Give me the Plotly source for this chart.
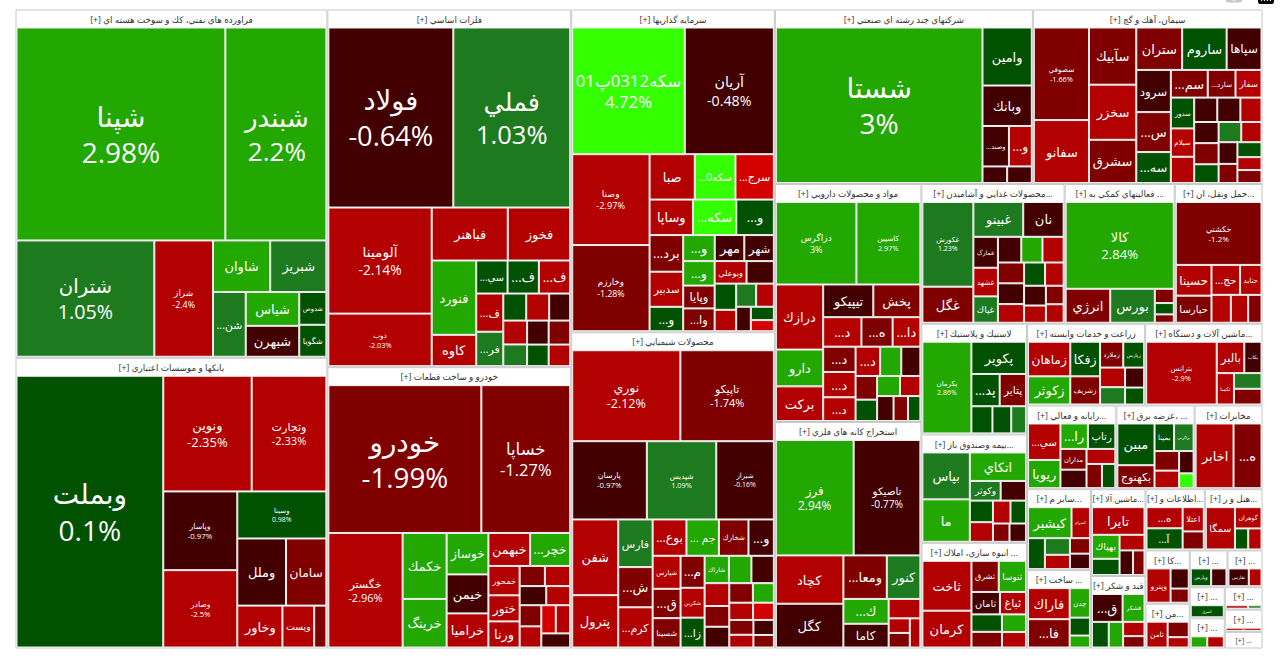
import plotly.graph_objects as go

# ---------------- data ----------------
sector_names = [
    "فراورده هاي نفتي، كك و سوخت هسته اي",
    "بانكها و موسسات اعتباري",
    "فلزات اساسي",
    "خودرو و ساخت قطعات",
    "سرمايه گذاريها",
    "محصولات شيميايي",
    "شركتهاي چند رشته اي صنعتي",
    "سيمان، آهك و گچ",
    "مواد و محصولات دارويي",
    "استخراج كانه هاي فلزي",
    "محصولات غذايي و آشاميدن...",
    "فعاليتهاي كمكي به ...",
    "حمل ونقل، ان...",
    "لاستيك و پلاستيك",
    "زراعت و خدمات وابسته",
    "ماشين آلات و دستگاه...",
    "بيمه وصندوق باز...",
    "انبوه سازي، املاك ...",
    "رايانه و فعالي...",
    "عرضه برق، ...",
    "مخابرات",
    "ساير م...",
    "ماشين آلا...",
    "هتل و ر...",
    "كا...",
    "ساخت ...",
    "قند و شكر",
    "اطلاعات و...",
    "من...",
    "...",
    "...",
    "...",
    "...",
    "...",
    "...",
    "...",
]

stock_names = [
    ["شپنا", "شبندر", "شتران", "شراز", "شاوان", "شبريز", "...شن", "شياس", "شبهرن", "شگويا", "شدوص"],
    ["وبملت", "ونوين", "وتجارت", "وپاسار", "وسينا", "وصادر", "وملل", "سامان", "وخاور", "وپست", "وكار"],
    ["فولاد", "فملي", "آلومينا", "ذوب", "فباهنر", "فخوز", "فنورد", "كاوه", "...سي", "...ف", "...فر",
     "...ف", "...ف", "فجر", "فلوله", "فسرب", "فروي", "فسپا", "فجهان", "فاسمين", "فزرين", "فكاوه"],
    ["خودرو", "خساپا", "خگستر", "خكمك", "خرينگ", "خيمن", "خوساز", "خراميا", "خبهمن", "...خچر", "ختور",
     "ورنا", "خمحور", "خپارس", "خاور", "خفنر", "خلنت", "خزاميا", "خشرق", "خريخت", "خمهر", "خاذين"],
    ["سكه0312پ01", "آريان", "وصنا", "وخارزم", "صبا", "...سكه0", "...و", "...سرج", "وساپا", "...سكه",
     "...برد", "وپايا", "مهر", "...وا", "سدبير", "شهر",
     "...و", "...و", "...و", "وبوعلي", "وسپه", "وغدير", "ونيكي", "وتوسم", "واميد", "وسكاب", "وآتي", "ومعادن"],
    ["نوري", "تاپيكو", "پارسان", "شپديس", "شيراز", "شفن", "پترول", "فارس", "...بوع", "... جم", "شخارك",
     "شكربن", "...ش", "...كرم",
     "...و", "...ق", "...م", "...زا", "شپارس", "شسينا", "شاراك", "شفارس", "شيران", "شكام", "شملي",
     "شغدير", "شلعاب", "شرنگي", "شصفها", "كرماشا", "شگل", "شتوكا", "شپاكسا", "شاملا"],
    ["شستا", "وامين", "وبانك", "...وصند", "...و", "وسپهر", "ومعادن"],
    ["سصوفي", "سفانو", "سآبيك", "سخزر", "سشرق", "ستران", "ساروم", "سپاها", "سرود", "...سارد", "...سه",
     "سفار", "...س", "...سم",
     "سدور", "سيلام", "سكرما", "سبهان", "سمازن", "سهگمت", "سغرب", "سخوز", "سنير", "سكرد", "سدشت",
     "سفارود", "ساربيل", "سقاين", "سيدكو", "سبجنو"],
    ["دزاگرس", "كاسپين", "درازك", "بركت", "تيپيكو", "...د", "پخش", "دارو", "...ه", "...دا", "...د",
     "...د", "...د", "...د", "دفارا", "دسبحا", "ديران", "دلر", "دكوثر", "دشيمي", "دابور", "داسوه", "دتماد"],
    ["فرز", "تاصيكو", "كگل", "كچاد", "كنور", "...ومعا", "...ك", "كاما", "كفرآور", "كمنگنز", "كروي", "كبافق"],
    ["غكورش", "غگل", "غبينو", "نان", "...غ", "غمارگ", "غشهد", "غپاك", "غدشت", "غزر", "غسالم", "غشان",
     "غپينو", "غمهرا", "غاذر", "غالبر", "غچين", "غنوش", "غدام"],
    ["كالا", "انرژي", "بورس", "فرابورس", "سپرده", "نهاد"],
    ["حكشتي", "حسينا", "...حج", "حتايد", "حپارسا", "حآفرين", "حريل", "حفارس"],
    ["پكرمان", "پكوير", "...پد", "پتاير", "پاكشو", "پلاسك", "پسهند"],
    ["زماهان", "زكوثر", "زفكا", "زشريف", "زملارد", "زپارس", "زبينا", "زدشت", "زگلدشت", "زشگزا"],
    ["بترانس", "بالبر", "بكاب", "تكمبا", "لخزر", "تپمپي"],
    ["بپاس", "ما", "اتكاي", "وكوثر", "ودانا", "وآسيا", "البرز", "بنو", "وتعاون", "ورازي", "وحكمت"],
    ["ثاخت", "كرمان", "ثشرق", "ثنوسا", "ثامان", "ثباغ", "ثفارس", "ثمسكن", "ثاصفا", "ثالوند"],
    ["...سي", "ريويا", "...را", "رتاپ", "مداران", "سپ", "فن افزار", "اپرداز", "رافزا"],
    ["مبين", "بكهنوج", "بمپنا", "بزاگرس", "تابا", "بجهرم", "بپيوند", "بنيرو"],
    ["اخابر", "...ه"],
    ["كيشبر", "كسرام", "...ك", "كساوه", "كفرا", "كپشير", "كلوند"],
    ["تايرا", "بهپاك", "بشهاب", "بسويچ", "بموتو", "بنوتاش"],
    ["سمگا", "گوهران", "اماهان", "گشان"],
    ["وپترو", "ثنظام", "ساذري"],
    ["فاراك", "...فا", "چدن", "فنرژي", "فجام"],
    ["...ق", "قشكر", "قثابت", "قپيرا", "قهكمت", "قنيشا"],
    ["...ه", "...آ", "اعتلا", "مفاخر"],
    ["ثامن", "دماوند", "سلار"],
    ["تفارس", "تكنار"],
    ["كشرق"],
    ["وپارس", "ولتجارت"],
    ["ساينا"],
    ["نمرا", "لپارس"],
    ["لسرما"],
    ["ميدكو", "كمينا"],
]

stock_pct = [
    [2.98, 2.2, 1.05, -2.4, 2.5, 1.3, 1.6, 2.4, -0.6, 0.5, 0.4],
    [0.1, -2.35, -2.33, -0.97, 0.98, -2.5, -0.3, -1.5, -2.2, -2.4, -1.4],
    [-0.64, 1.03, -2.14, -2.03, -2.4, -2.2, 2.6, -2.3, 0.5, 0.7, 1.5,
     -2.1, -2.6, 0.4, -2.2, -0.8, -2.5, 1.4, -0.5, 0.6, -2.8, -1.5],
    [-1.99, -1.27, -2.96, 2.7, 2.4, -0.7, 2.2, -2.5, -2.3, 2.5, -2.4,
     -2.2, -2.6, -1.5, -2.1, -0.6, -2.7, -1.8, -2.4, -3.5, -2.0, -0.5],
    [4.72, -0.48, -2.97, -1.28, -2.6, 4.5, 0.6, -3.4, -2.2, 4.3, -1.3, -1.5, -0.9, -1.4, -2.3, -0.7,
     0.6, 2.3, 2.5, -2.2, -0.8, 0.5, -2.4, 1.6, -2.6, -0.7, 0.3, -3.2],
    [-2.12, -1.74, -0.97, 1.09, -0.16, -2.4, -2.3, 1.4, -2.5, 2.6, -1.5, -2.7, -1.6, -2.2,
     -0.9, -1.6, -1.5, 0.6, -2.3, -1.4, 2.4, 2.2, -0.8, -2.1, -1.2, -0.7, -1.6, 2.6, -2.2, -3.5,
     -1.1, -2.4, -0.5, -1.3],
    [3.0, 0.6, -0.8, -0.6, -2.3, -0.5, -0.9],
    [-1.66, -2.8, -1.5, -2.3, -1.4, -1.6, 0.7, -0.6, -0.8, -1.3, 0.5, -2.3, -1.4, -1.2,
     0.5, -2.2, -2.4, -0.7, -0.8, -2.5, -0.6, -1.5, 0.4, 1.5, -2.3, -0.9, -1.8, 0.6, -2.0, -1.2],
    [3.0, 2.97, -2.3, -2.4, -0.8, -2.2, -1.5, 2.5, -1.4, -2.1, -1.3, -2.2, -2.4, -2.1, 2.2, -0.6,
     -1.1, 0.5, 2.6, -2.6, -0.9, -1.6, 0.4],
    [2.94, -0.77, -0.6, -2.5, 1.5, -1.4, 2.8, -0.9, -2.3, -2.1, -1.5, -2.6],
    [1.23, -1.3, 1.6, -0.6, 2.6, -0.8, -2.4, 1.5, -0.7, -2.2, -1.4, -0.9, -2.6, 0.6, -2.1, -0.5,
     -2.3, -1.2, -2.5],
    [2.84, -1.4, 1.5, -1.2, 0.5, -1.6],
    [-1.2, -2.3, -2.2, -2.5, -1.5, -2.1, -2.6, -1.4],
    [2.86, 0.8, 0.6, -1.3, 0.5, 0.4, 1.2],
    [-2.2, 2.4, 0.7, -1.3, -1.5, 0.6, -2.3, 1.3, -0.8, 0.5],
    [-2.9, -2.4, -0.7, -2.2, 1.5, -1.4],
    [1.2, 2.3, 2.5, 1.4, -0.6, 0.5, -2.2, -2.4, 0.4, -1.5, -0.7],
    [-2.5, -2.4, -1.5, 2.3, -0.8, -2.2, 0.6, -1.3, 2.1, -2.6],
    [-2.3, 2.4, 2.2, 0.5, -1.4, -0.6, -2.1, -1.3, 0.4],
    [0.8, -1.3, 0.6, 1.3, -1.6, -2.3, 4.2, -0.7],
    [-2.3, -1.6],
    [2.4, -2.3, 0.7, 1.3, -2.2, -1.5, -0.6],
    [-2.3, 2.4, 0.6, -2.2, -0.7, -1.5],
    [-2.4, -2.2, 0.6, -2.6],
    [-2.3, -0.7, -1.5],
    [-2.3, -1.5, 2.4, 0.6, 2.2],
    [-0.8, 2.5, 0.6, 2.3, -2.2, -1.4],
    [-2.3, 0.7, -2.2, -1.4],
    [-2.3, -1.2, -2.2],
    [-0.8, -2.4],
    [0.6],
    [0.5, -0.8],
    [-2.3],
    [-2.3, 1.5],
    [0.7],
    [2.4, -2.2],
]

stock_size = [
    [430, 208, 155, 66, 28.5, 28, 20.5, 17.5, 16, 8.4, 8.6],
    [390, 100, 84.5, 57, 41, 56, 32, 26.5, 18.5, 13, 5],
    [217.5, 203.5, 106, 52.5, 39, 32, 32, 13.5, 10, 10, 9, 10, 10, 6, 6, 5.5, 5.5, 5, 5, 4.5, 4.5, 5],
    [222, 129, 83.5, 28.5, 21, 16, 17, 14, 13.5, 13, 8, 8, 9, 5, 5, 5, 4.5, 4.5, 4.5, 4, 4, 4],
    [139, 110, 68.5, 65, 20, 18, 13, 17, 15, 15, 12, 7, 7.5, 7, 11.5, 7.5,
     8, 8, 7.5, 7, 6, 5.5, 4.5, 4.5, 4, 3.5, 3, 2.5],
    [96, 83, 57, 53, 44, 34, 23.5, 16, 12, 11.5, 10.5, 7, 13.5, 13.5,
     9, 8, 7.5, 7, 9, 8, 6.5, 6, 6, 5.5, 5, 5, 4.5, 4, 4, 3.5, 3.5, 3, 3, 2.5],
    [330, 29.4, 20.5, 11, 9.5, 4.2, 4.2],
    [52.5, 35.7, 27.8, 26.8, 21, 20, 19.4, 15.2, 15, 7.9, 11, 7.4, 14.2, 10.5,
     7.4, 6.8, 6.3, 5.8, 5.8, 5.3, 5.3, 5.3, 4.7, 4.7, 4.2, 4.2, 3.7, 3.7, 3.2, 3.2],
    [66.5, 52.8, 30.8, 16.4, 16.4, 11.3, 15.4, 17.4, 9.2, 8.2, 8.2, 8.2, 7.7, 7.2, 6.2, 5.6, 5.1,
     4.6, 4.6, 4.1, 4.1, 3.6, 3.1],
    [90.2, 77.4, 29.7, 32.8, 14.7, 19, 11.3, 10.8, 6.2, 3.1, 3.1, 3.1],
    [46, 19.6, 18.5, 15, 5.8, 8.1, 7.5, 6.9, 6.4, 5.8, 5.8, 5.8, 5.2, 5.2, 4.6, 4.6, 4, 3.5, 3.5],
    [100.5, 16.2, 16.2, 2.9, 2.3, 1.7],
    [58, 11.8, 9.2, 6.9, 10.4, 5.8, 5.2, 4],
    [50.2, 19.7, 10.2, 9.5, 6.4, 5.7, 4.5],
    [17.6, 14.3, 12.4, 10.1, 7.2, 6.5, 5.9, 5.2, 4.6, 3.9],
    [53.3, 10.4, 6.5, 6.5, 5.2, 5.2],
    [25, 22.6, 18, 6.8, 5.6, 5.6, 5.1, 4.5, 4, 3.4, 3.4],
    [27.6, 20.4, 9.6, 9.6, 7.2, 6.6, 6, 5.4, 4.8, 4.2],
    [14.2, 11, 8.4, 8.4, 6.5, 5.8, 5.2, 4.5, 3.9],
    [18.7, 10.3, 6.5, 6.5, 5.8, 5.2, 2.6, 3.9],
    [29.7, 21.9],
    [16.5, 7, 6.4, 5.1, 4.4, 3.8, 3.8],
    [17.5, 8, 5.4, 4.7, 4, 3.4],
    [16.8, 7.7, 3.8, 3.8],
    [12.2, 5.4, 3.8],
    [16, 14.6, 7.4, 4.5, 3],
    [10.9, 7.8, 5.5, 4.7, 3.9, 3.1],
    [10.4, 10.4, 7, 5.2],
    [9, 5.4, 3.6],
    [7.2, 4.5],
    [9.9],
    [7.2, 5.4],
    [7.6],
    [4.8, 2.9],
    [5.7],
    [4.8, 4.8],
]

# ---------------- styling helpers ----------------
POS_COLORS = ["#005200", "#1e7a1e", "#22a800", "#33ff00"]
NEG_COLORS = ["#420000", "#800000", "#b30000", "#d40000", "#f00000"]


def color_for(p):
    if p >= 0:
        if p < 1:
            return POS_COLORS[0]
        if p < 2:
            return POS_COLORS[1]
        if p < 4:
            return POS_COLORS[2]
        return POS_COLORS[3]
    a = -p
    if a < 1:
        return NEG_COLORS[0]
    if a < 2:
        return NEG_COLORS[1]
    if a < 3:
        return NEG_COLORS[2]
    if a < 4:
        return NEG_COLORS[3]
    return NEG_COLORS[4]


def leaf_text(name, p, v):
    if v >= 40:
        return f"{name}<br>{p:g}%"
    if v >= 6.5:
        return name
    return ""


def leaf_font(v):
    if v >= 40:
        return max(7.0, min(28.0, 7 + (v - 50) / 8.3))
    return 13.0


ids, labels, parents, values, colors, texts = [], [], [], [], [], []
fsizes, fcolors, lcolors = [], [], []

for si, sname in enumerate(sector_names):
    sid = f"s{si}"
    ids.append(sid)
    labels.append("[+] " + sname)
    parents.append("")
    values.append(sum(stock_size[si]))
    colors.append("#ffffff")
    texts.append("[+] " + sname)
    fsizes.append(11)
    fcolors.append("#333333")
    lcolors.append("#c8c8c8")
    for ki, (n, p, v) in enumerate(zip(stock_names[si], stock_pct[si], stock_size[si])):
        ids.append(f"{sid}_{ki}")
        labels.append(n)
        parents.append(sid)
        values.append(v)
        colors.append(color_for(p))
        texts.append(leaf_text(n, p, v))
        fsizes.append(leaf_font(v))
        fcolors.append("#ffffff")
        lcolors.append("#eeeeee")

fig = go.Figure(go.Treemap(
    ids=ids,
    labels=labels,
    parents=parents,
    values=values,
    branchvalues="total",
    text=texts,
    textinfo="text",
    textposition="middle center",
    textfont=dict(family="Open Sans, DejaVu Sans", size=fsizes, color=fcolors),
    marker=dict(colors=colors, line=dict(color=lcolors, width=1),
                pad=dict(t=18, l=1, r=1, b=1)),
    tiling=dict(packing="squarify", squarifyratio=1, pad=1),
    pathbar=dict(visible=False),
    sort=True,
    hoverinfo="label+value",
))

fig.update_layout(
    width=1280, height=678,
    margin=dict(l=15, r=17, t=9, b=12),
    paper_bgcolor="#ffffff",
    plot_bgcolor="#ffffff",
)

fig.write_html(
    "out.html",
    post_script=(
        "document.body.style.margin='0';"
        "document.body.style.overflow='hidden';"
        "var d=document.getElementById('{plot_id}');"
        "d.style.marginTop='-17px';"
    ),
)
